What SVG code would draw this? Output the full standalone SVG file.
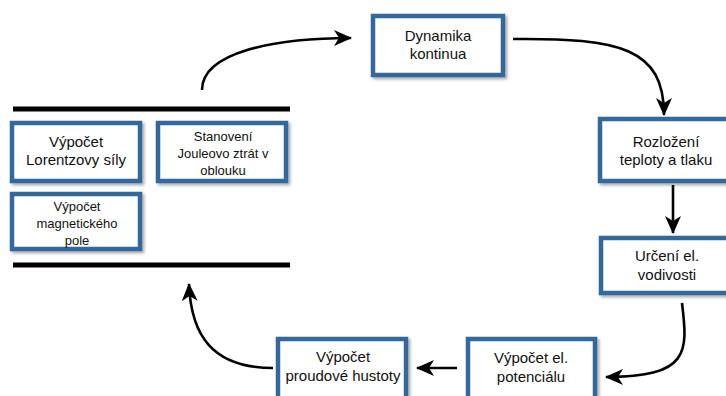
<svg xmlns="http://www.w3.org/2000/svg" width="726" height="396" viewBox="0 0 726 396">
  <style>
    .box { fill: #ffffff; stroke: #31679b; stroke-width: 4.5; filter: url(#shadow); }
    .lbl { font-family: "Liberation Sans", Arial, sans-serif; font-size: 15px; fill: #111111; text-anchor: middle; }
    .sm { font-size: 13px; }
    .edge { fill: none; stroke: #000000; stroke-width: 2.6; marker-end: url(#arrow); }
    .bar { fill: #000000; }
  </style>
  <defs>
    <filter id="shadow" x="-10%" y="-10%" width="125%" height="130%">
      <feDropShadow dx="2" dy="2" stdDeviation="1.5" flood-color="#000000" flood-opacity="0.35"/>
    </filter>
    <marker id="arrow" markerUnits="userSpaceOnUse" markerWidth="18" markerHeight="16" refX="17" refY="8" orient="auto">
      <path d="M0,0 L18,8 L0,16 L5,8 z" fill="#000000"/>
    </marker>
  </defs>

  <rect width="726" height="396" fill="#ffffff"/>

  <!-- left block: bars with three boxes between them -->
  <g id="group-bars">
    <rect class="bar" x="13" y="106.5" width="277" height="5"/>
    <rect class="bar" x="13" y="262.5" width="277" height="5"/>
  </g>

  <g id="node-lorentz">
    <rect class="box" x="12" y="123" width="128" height="58"/>
    <text class="lbl" x="76" y="147">Výpočet</text>
    <text class="lbl" x="76" y="165">Lorentzovy síly</text>
  </g>

  <g id="node-joule">
    <rect class="box" x="158" y="123" width="128" height="58"/>
    <text class="lbl sm" x="223" y="141">Stanovení</text>
    <text class="lbl sm" x="223" y="158">Jouleovo ztrát v</text>
    <text class="lbl sm" x="223" y="175">oblouku</text>
  </g>

  <g id="node-magnet">
    <rect class="box" x="12" y="194" width="128" height="55"/>
    <text class="lbl sm" x="77" y="211">Výpočet</text>
    <text class="lbl sm" x="77" y="228">magnetického</text>
    <text class="lbl sm" x="77" y="245">pole</text>
  </g>

  <g id="node-dynamika">
    <rect class="box" x="373" y="16" width="130" height="59"/>
    <text class="lbl" x="438" y="41">Dynamika</text>
    <text class="lbl" x="438" y="59">kontinua</text>
  </g>

  <g id="node-teplota">
    <rect class="box" x="600" y="119" width="132" height="62"/>
    <text class="lbl" x="666" y="147">Rozložení</text>
    <text class="lbl" x="666" y="165">teploty a tlaku</text>
  </g>

  <g id="node-vodivost">
    <rect class="box" x="601" y="238" width="132" height="55"/>
    <text class="lbl" x="667" y="261">Určení el.</text>
    <text class="lbl" x="667" y="280">vodivosti</text>
  </g>

  <g id="node-potencial">
    <rect class="box" x="468" y="339" width="127" height="65"/>
    <text class="lbl" x="531" y="363">Výpočet el.</text>
    <text class="lbl" x="531" y="382">potenciálu</text>
  </g>

  <g id="node-hustota">
    <rect class="box" x="278" y="339" width="128" height="65"/>
    <text class="lbl" x="343" y="362">Výpočet</text>
    <text class="lbl" x="343" y="381">proudové hustoty</text>
  </g>

  <!-- connectors -->
  <g id="connectors">
    <path class="edge" d="M202,90 C202,52 275,38 351,38"/>
    <path class="edge" d="M513,39 C620,38 664,48 664,115"/>
    <path class="edge" d="M673,185 L673,233"/>
    <path class="edge" d="M682,303 C688,352 690,377 606,377"/>
    <path class="edge" d="M457,368 L417,368"/>
    <path class="edge" d="M273,368 C212,368 191,335 189,284"/>
  </g>
</svg>
